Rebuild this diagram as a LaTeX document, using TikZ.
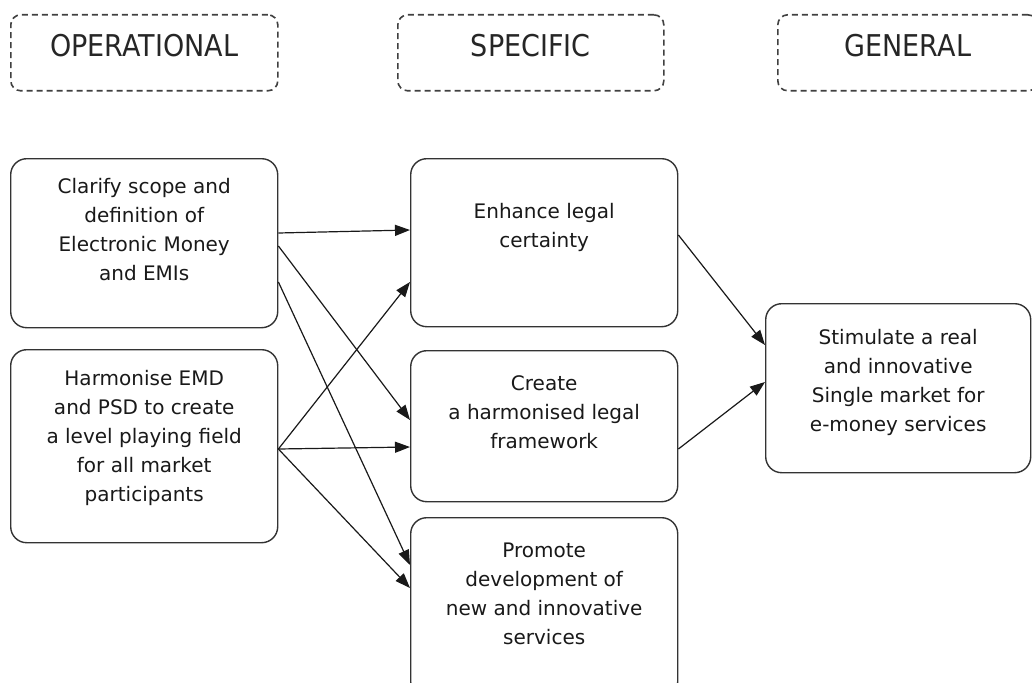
\documentclass[tikz,border=0pt]{standalone}
\usepackage{fontspec}
\setmainfont{DejaVu Sans}
\newfontfamily\hdfont[FakeStretch=0.9]{DejaVu Sans}
\usetikzlibrary{arrows.meta,calc}
\begin{document}
\begin{tikzpicture}[x=1pt,y=-1pt,
  box/.style={draw=black!80, line width=1.4pt, rounded corners=16pt, fill=white, inner sep=0pt, anchor=north west},
  hdr/.style={draw=black!75, line width=1.6pt, dash pattern=on 6pt off 4pt, rounded corners=10pt, inner sep=0pt, anchor=north west, minimum height=76pt},
  txt/.style={font=\fontsize{20}{29}\selectfont, align=center, inner sep=0pt, anchor=north, text=black!90},
  htxt/.style={font=\hdfont\fontsize{30}{36}\selectfont, inner sep=0pt, anchor=base, text=black!85},
  arr/.style={line width=1.2pt, draw=black!90, -{Triangle[length=15pt,width=11pt]}}]
\fill[white] (0,0) rectangle (1032,682);
\clip (0,0) rectangle (1032,682);
% headers
\node[hdr, minimum width=267pt] (hop) at (10,14) {};
\node[htxt] (hopt) at ($(hop.north)+(0,43)$) {OPERATIONAL};
\node[hdr, minimum width=266pt] (hsp) at (397,14) {};
\node[htxt] (hspt) at ($(hsp.north)+(0,43)$) {SPECIFIC};
\node[hdr, minimum width=260pt] (hge) at (777,14) {};
\node[htxt] (hget) at ($(hge.north)+(0,43)$) {GENERAL};
% boxes
\node[box, minimum width=267pt, minimum height=169pt] (clarify) at (10,158) {};
\node[txt] (clarifyt) at ($(clarify.north)+(0,20)$) {Clarify scope and\\definition of\\Electronic Money\\and EMIs};
\node[box, minimum width=267pt, minimum height=193pt] (harm) at (10,349) {};
\node[txt] (harmt) at ($(harm.north)+(0,21)$) {Harmonise EMD\\and PSD to create\\a level playing field\\for all market\\participants};
\node[box, minimum width=267pt, minimum height=168pt] (enh) at (410,158) {};
\node[txt] (enht) at ($(enh.north)+(0,45)$) {Enhance legal\\certainty};
\node[box, minimum width=267pt, minimum height=151pt] (create) at (410,350) {};
\node[txt] (createt) at ($(create.north)+(0,25)$) {Create\\a harmonised legal\\framework};
\node[box, minimum width=267pt, minimum height=180pt] (promote) at (410,517) {};
\node[txt] (promotet) at ($(promote.north)+(0,26)$) {Promote\\development of\\new and innovative\\services};
\node[box, minimum width=265pt, minimum height=169pt] (stim) at (765,303) {};
\node[txt] (stimt) at ($(stim.north)+(0,26)$) {Stimulate a real\\and innovative\\Single market for\\e-money services};
% connectors
\draw[arr] ($(clarify.north east)+(0,75)$) -- ($(enh.north west)+(0,72)$);
\draw[arr] ($(clarify.north east)+(0,88)$) -- ($(create.north west)+(0,70)$);
\draw[arr] ($(clarify.north east)+(0,124)$) -- ($(promote.north west)+(0,48)$);
\draw[arr] ($(harm.north east)+(0,100)$) -- ($(enh.north west)+(0,124)$);
\draw[arr] ($(harm.north east)+(0,100)$) -- ($(create.north west)+(0,97)$);
\draw[arr] ($(harm.north east)+(0,100)$) -- ($(promote.north west)+(0,71)$);
\draw[arr] ($(enh.north east)+(0,77)$) -- ($(stim.north west)+(0,42)$);
\draw[arr] ($(create.north east)+(0,99)$) -- ($(stim.north west)+(0,79)$);
\end{tikzpicture}
\end{document}
